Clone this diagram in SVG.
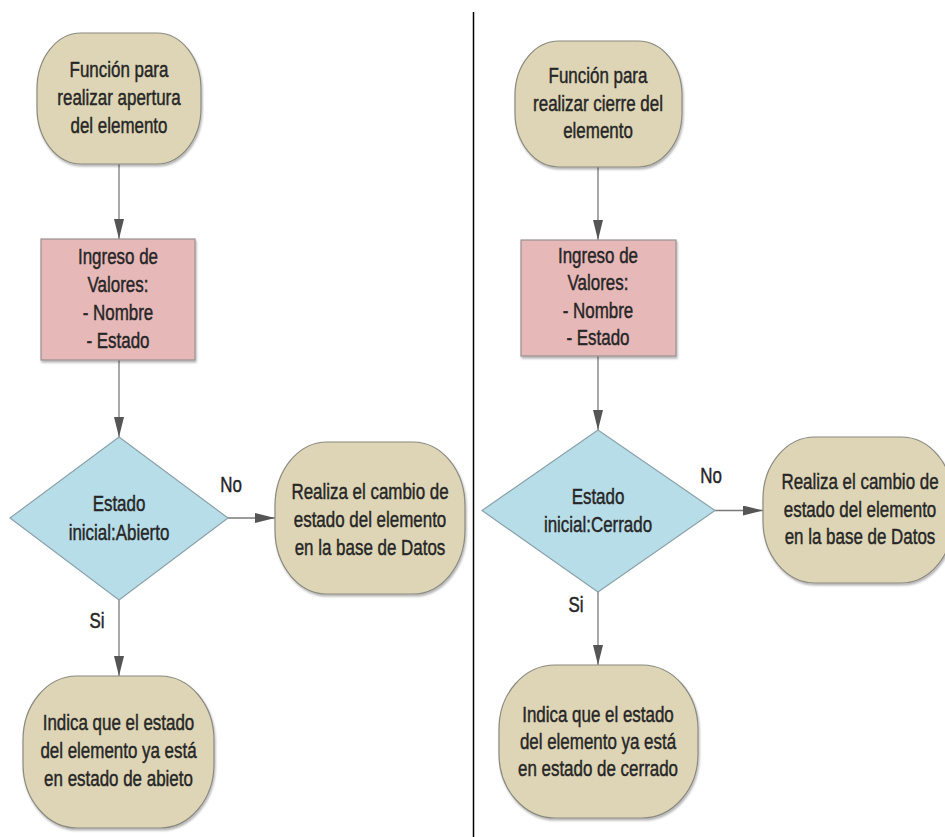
<svg xmlns="http://www.w3.org/2000/svg" width="945" height="837" viewBox="0 0 945 837">
<defs>
<style>
.term{fill:#DDD5B5;stroke:#8a8a80;stroke-width:1.2;filter:url(#sh)}
.proc{fill:#E6B8B8;stroke:#9a9090;stroke-width:1.2;filter:url(#sh)}
.dec{fill:#B7DDE8;stroke:#8aa2aa;stroke-width:1.2}
.lbl{font-family:"Liberation Sans",Arial,sans-serif;font-size:22px;fill:#262626;stroke:#262626;stroke-width:0.45;text-anchor:middle}
.edge{fill:none;stroke:#7a7a7a;stroke-width:1.3;marker-end:url(#ah)}
</style>
<filter id="sh" x="-10%" y="-10%" width="125%" height="125%">
<feDropShadow dx="1" dy="2" stdDeviation="1" flood-color="#000" flood-opacity="0.3"/>
</filter>
<marker id="ah" markerUnits="userSpaceOnUse" markerWidth="20" markerHeight="10" refX="20" refY="5" orient="auto">
<path d="M0,0 L20,5 L0,10 Z" fill="#555"/>
</marker>
</defs>
<rect width="945" height="837" fill="#fff"/>
<line x1="473.5" y1="12" x2="473.5" y2="837" stroke="#000" stroke-width="1.5"/>

<g id="connectors">
<path class="edge" d="M119,164 V239"/>
<path class="edge" d="M119,360 V437"/>
<path class="edge" d="M227,518 H275"/>
<path class="edge" d="M119,600 V676"/>
<path class="edge" d="M598,167 V240"/>
<path class="edge" d="M598,356 V430"/>
<path class="edge" d="M715,510.5 H763"/>
<path class="edge" d="M598,592 V665"/>
<text class="lbl" transform="matrix(0.77 0 0 1 231 0)" x="0" y="492">No</text>
<text class="lbl" transform="matrix(0.77 0 0 1 97 0)" x="0" y="628">Si</text>
<text class="lbl" transform="matrix(0.77 0 0 1 711 0)" x="0" y="483">No</text>
<text class="lbl" transform="matrix(0.77 0 0 1 576 0)" x="0" y="612">Si</text>
</g>

<g id="l-start">
<rect class="term" x="37" y="33" width="164" height="131" rx="44" ry="56"/>
<text class="lbl" transform="matrix(0.77 0 0 1 119 0)"><tspan x="0" y="77">Función para</tspan><tspan x="0" y="105">realizar apertura</tspan><tspan x="0" y="133">del elemento</tspan></text>
</g>
<g id="l-input">
<rect class="proc" x="41" y="239" width="154" height="121"/>
<text class="lbl" transform="matrix(0.77 0 0 1 118 0)"><tspan x="0" y="264">Ingreso de</tspan><tspan x="0" y="292">Valores:</tspan><tspan x="0" y="320">- Nombre</tspan><tspan x="0" y="348">- Estado</tspan></text>
</g>
<g id="l-decision">
<polygon class="dec" points="119,437 228,518 119,600 10,518"/>
<text class="lbl" transform="matrix(0.77 0 0 1 119 0)"><tspan x="0" y="511">Estado</tspan><tspan x="0" y="540">inicial:Abierto</tspan></text>
</g>
<g id="l-change">
<rect class="term" x="275" y="442" width="190" height="152" rx="52" ry="64"/>
<text class="lbl" transform="matrix(0.77 0 0 1 370 0)"><tspan x="0" y="499">Realiza el cambio de</tspan><tspan x="0" y="527">estado del elemento</tspan><tspan x="0" y="555">en la base de Datos</tspan></text>
</g>
<g id="l-already">
<rect class="term" x="23" y="676" width="191" height="152" rx="54" ry="64"/>
<text class="lbl" transform="matrix(0.77 0 0 1 118.5 0)"><tspan x="0" y="730">Indica que el estado</tspan><tspan x="0" y="758">del elemento ya está</tspan><tspan x="0" y="786">en estado de abieto</tspan></text>
</g>

<g id="r-start">
<rect class="term" x="515" y="41" width="167" height="126" rx="44" ry="54"/>
<text class="lbl" transform="matrix(0.77 0 0 1 598 0)"><tspan x="0" y="83">Función para</tspan><tspan x="0" y="111">realizar cierre del</tspan><tspan x="0" y="138">elemento</tspan></text>
</g>
<g id="r-input">
<rect class="proc" x="521" y="240" width="155" height="116"/>
<text class="lbl" transform="matrix(0.77 0 0 1 598 0)"><tspan x="0" y="263">Ingreso de</tspan><tspan x="0" y="290.5">Valores:</tspan><tspan x="0" y="318">- Nombre</tspan><tspan x="0" y="345.5">- Estado</tspan></text>
</g>
<g id="r-decision">
<polygon class="dec" points="598,430 715,510.5 598,592 482,510.5"/>
<text class="lbl" transform="matrix(0.77 0 0 1 598 0)"><tspan x="0" y="504">Estado</tspan><tspan x="0" y="532">inicial:Cerrado</tspan></text>
</g>
<g id="r-change">
<rect class="term" x="763" y="437" width="190" height="146" rx="52" ry="62"/>
<text class="lbl" transform="matrix(0.77 0 0 1 860 0)"><tspan x="0" y="489">Realiza el cambio de</tspan><tspan x="0" y="517">estado del elemento</tspan><tspan x="0" y="544">en la base de Datos</tspan></text>
</g>
<g id="r-already">
<rect class="term" x="499" y="665" width="199" height="153" rx="56" ry="64"/>
<text class="lbl" transform="matrix(0.77 0 0 1 598 0)"><tspan x="0" y="722">Indica que el estado</tspan><tspan x="0" y="749">del elemento ya está</tspan><tspan x="0" y="776">en estado de cerrado</tspan></text>
</g>
</svg>
